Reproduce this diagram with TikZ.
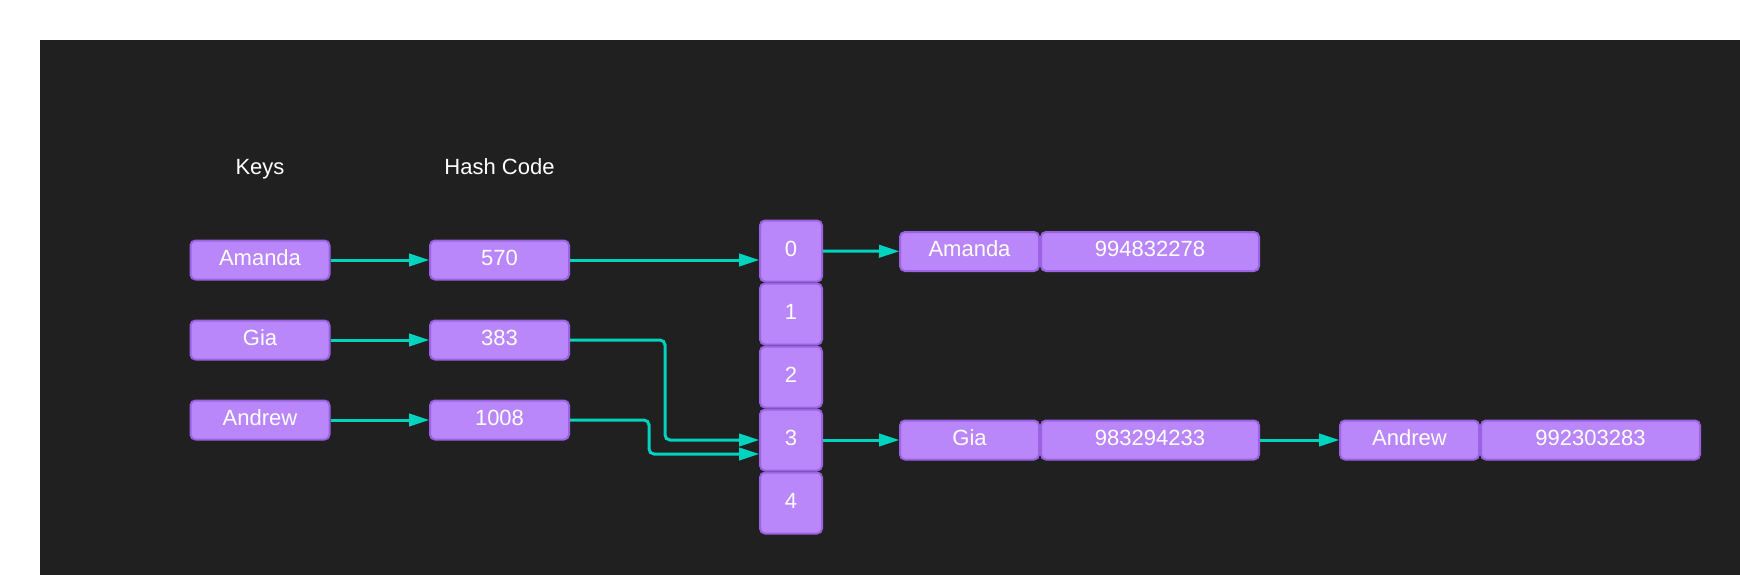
\documentclass[tikz,border=0pt]{standalone}
\usepackage{fontspec}
\setmainfont{Liberation Sans}
\usetikzlibrary{arrows.meta}
\definecolor{bgdark}{HTML}{202020}
\definecolor{cellfill}{HTML}{B987F9}
\definecolor{celledge}{HTML}{9B63E3}
\definecolor{linkcol}{HTML}{00D3BE}
\tikzset{
  cell/.style={draw=celledge, fill=cellfill, line width=2pt, rounded corners=5pt, text=white,
    inner sep=0pt, minimum height=39pt, text height=16pt, text depth=6pt, font=\fontsize{22}{26}\selectfont},
  keycell/.style={cell, minimum width=139pt},
  valcell/.style={cell, minimum width=218pt},
  bucket/.style={cell, minimum width=62pt, minimum height=61pt},
  heading/.style={text=white, inner sep=0pt, text height=16pt, text depth=6pt, font=\fontsize{22}{26}\selectfont},
  link/.style={draw=linkcol, line width=3pt, rounded corners=5pt,
    -{Triangle[length=20pt,width=13pt,line width=1pt]}}
}
\begin{document}
\begin{tikzpicture}[x=1pt,y=-1pt]
	\useasboundingbox (0,0) rectangle (1740,575);
	\fill[white] (0,0) rectangle (1740,575);
	\fill[bgdark] (40,40) rectangle (1740,575);
	\node[heading] (keys) at (260, 170) {Keys};
	\node[heading] (hash) at (499.5, 170) {Hash Code};
	\node[keycell] (kAmanda) at (260, 260) {Amanda};
	\node[keycell] (kGia) at (260, 340) {Gia};
	\node[keycell] (kAndrew) at (260, 420) {Andrew};
	\node[keycell] (hAmanda) at (499.5, 260) {570};
	\node[keycell] (hGia) at (499.5, 340) {383};
	\node[keycell] (hAndrew) at (499.5, 420) {1008};
	\node[bucket] (b0) at (791, 251) {0};
	\node[bucket] (b1) at (791, 314) {1};
	\node[bucket] (b2) at (791, 377) {2};
	\node[bucket] (b3) at (791, 440) {3};
	\node[bucket] (b4) at (791, 503) {4};
	\node[keycell] (eAmanda) at (969.5, 251.5) {Amanda};
	\node[valcell] (vAmanda) at (1150, 251.5) {994832278};
	\node[keycell] (eGia) at (969.5, 440) {Gia};
	\node[valcell] (vGia) at (1150, 440) {983294233};
	\node[keycell] (eAndrew) at (1409.5, 440) {Andrew};
	\node[valcell, minimum width=219pt] (vAndrew) at (1590.5, 440) {992303283};
	 \draw[link] (kAmanda) -- (hAmanda);
	 \draw[link] (kGia) -- (hGia);
	 \draw[link] (kAndrew) -- (hAndrew);
	 \draw[link] (hAmanda.east) -- (hAmanda.east -| b0.west);
	 \draw[link] (hGia.east) -- ++(95,0) |- (b3.west);
	 \draw[link] (hAndrew.east) -- ++(79,0) |- ([yshift=-14pt]b3.west);
	 \draw[link] (b0) -- (eAmanda);
	 \draw[link] (b3) -- (eGia);
	 \draw[link] (vGia) -- (eAndrew);
\end{tikzpicture}
\end{document}
